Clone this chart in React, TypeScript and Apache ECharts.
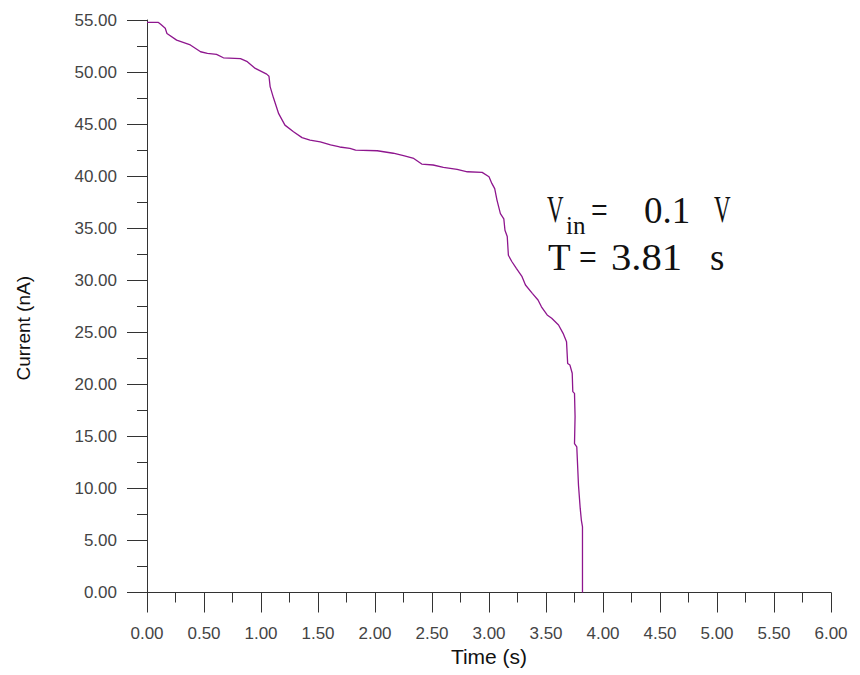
import React, { useEffect, useRef } from "react";
import * as echarts from "echarts";

const timeS = [
  0, 0.1, 0.12, 0.16, 0.175, 0.26, 0.38, 0.47, 0.53, 0.61, 0.67, 0.82, 0.88, 0.95,
  1.05, 1.07, 1.08, 1.11, 1.155, 1.21, 1.285, 1.36, 1.43, 1.52, 1.61, 1.69, 1.78, 1.83,
  2.02, 2.16, 2.25, 2.34, 2.41, 2.51, 2.6, 2.72, 2.81, 2.94, 3.0, 3.025, 3.05, 3.07,
  3.1, 3.13, 3.14, 3.16, 3.17, 3.2, 3.24, 3.29, 3.32, 3.38, 3.43, 3.46, 3.51, 3.55,
  3.61, 3.65, 3.68, 3.69, 3.71, 3.73, 3.735, 3.75, 3.755, 3.75, 3.77, 3.785, 3.8, 3.81,
  3.82, 3.82,
];
const currentNA = [
  54.77, 54.77, 54.6, 54.2, 53.7, 53.07, 52.6, 51.95, 51.8, 51.7, 51.37, 51.28, 51.0, 50.35,
  49.8, 49.6, 48.6, 47.5, 46.0, 44.9, 44.27, 43.7, 43.47, 43.3, 43.0, 42.8, 42.67, 42.5,
  42.44, 42.2, 41.96, 41.7, 41.16, 41.07, 40.85, 40.65, 40.42, 40.36, 39.94, 39.3, 38.8, 37.7,
  36.4, 35.9, 34.8, 34.2, 32.4, 31.8, 31.14, 30.34, 29.54, 28.74, 28.1, 27.45, 26.66, 26.34,
  25.7, 24.9, 24.1, 22.0, 21.85, 21.06, 19.3, 19.13, 16.9, 14.3, 14.0, 10.3, 8.1, 6.96,
  6.3, 0,
];

const xTitle = "Time (s)";
const yTitle = "Current (nA)";
const vinSymbol = "V";
const vinSub = "in";
const vinValue = "0.1";
const vinUnit = "V";
const tSymbol = "T";
const tValue = "3.81";
const tUnit = "s";

export default function App() {
  const ref = useRef<HTMLDivElement>(null);

  useEffect(() => {
    if (!ref.current) return;
    const chart = echarts.init(ref.current, null, { renderer: "svg" });
    const axisColor = "#333333";
    const labelStyle = {
      color: "#444444",
      fontFamily: "Liberation Sans, Arial, sans-serif",
      fontSize: 17,
    };
    const serif = "Liberation Serif, Times New Roman, serif";
    const txt = (
      s: string,
      x: number,
      y: number,
      size: number,
      scaleX = 1
    ) => ({
      type: "text",
      x,
      y,
      scaleX,
      style: {
        text: s,
        font: `${size}px ${serif}`,
        fill: "#111111",
        verticalAlign: "middle",
        align: "left",
      },
    });
    chart.setOption({
      animation: false,
      backgroundColor: "#ffffff",
      grid: { left: 147, right: 29, top: 20, bottom: 82.5, containLabel: false },
      xAxis: {
        type: "value",
        min: 0,
        max: 6,
        interval: 0.5,
        name: xTitle,
        nameLocation: "middle",
        nameGap: 50,
        nameTextStyle: {
          color: "#111111",
          fontFamily: "Liberation Sans, Arial, sans-serif",
          fontSize: 21,
        },
        axisLine: { show: true, onZero: false, lineStyle: { color: axisColor, width: 1 } },
        axisTick: { show: true, length: 20, lineStyle: { color: axisColor } },
        minorTick: { show: true, splitNumber: 2, length: 10, lineStyle: { color: axisColor } },
        splitLine: { show: false },
        axisLabel: {
          ...labelStyle,
          margin: 32,
          formatter: (v: number) => v.toFixed(2),
        },
      },
      yAxis: {
        type: "value",
        min: 0,
        max: 55,
        interval: 5,
        name: yTitle,
        nameLocation: "middle",
        nameGap: 114,
        nameRotate: 90,
        nameTextStyle: {
          color: "#111111",
          fontFamily: "Liberation Sans, Arial, sans-serif",
          fontSize: 19,
          padding: [0, 44, 0, 0],
        },
        axisLine: { show: true, onZero: false, lineStyle: { color: axisColor, width: 1 } },
        axisTick: { show: true, length: 20, lineStyle: { color: axisColor } },
        minorTick: { show: true, splitNumber: 2, length: 10, lineStyle: { color: axisColor } },
        splitLine: { show: false },
        axisLabel: {
          ...labelStyle,
          margin: 30,
          formatter: (v: number) => v.toFixed(2),
        },
      },
      series: [
        {
          type: "line",
          data: timeS.map((t, i) => [t, currentNA[i]]),
          showSymbol: false,
          symbol: "none",
          lineStyle: { color: "#8e168e", width: 1.3 },
        },
      ],
      graphic: [
        txt(vinSymbol, 547, 210, 37, 0.62),
        txt(vinSub, 566, 225, 25, 1),
        txt("=", 591, 210, 37, 0.8),
        txt(vinValue, 644, 210, 37, 1),
        txt(vinUnit, 714, 210, 37, 0.62),
        txt(tSymbol, 548, 257, 37, 1),
        txt("=", 579, 257, 37, 0.85),
        txt(tValue, 611, 257, 37, 1.1),
        txt(tUnit, 710, 257, 37, 1),
      ],
    });
    return () => chart.dispose();
  }, []);

  return (
    <div
      ref={ref}
      style={{ position: "fixed", left: 0, top: 0, width: 860, height: 675, background: "#fff" }}
    />
  );
}
